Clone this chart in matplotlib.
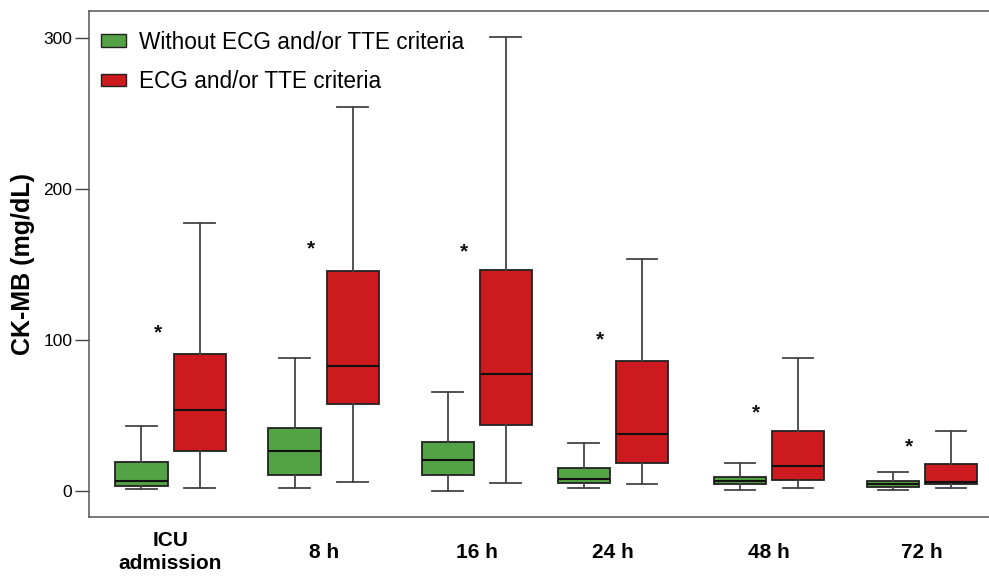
import matplotlib.pyplot as plt
from matplotlib.patches import Patch

plt.rcParams['font.family'] = ['Liberation Sans', 'DejaVu Sans']

# Time points and group centres on the x axis
timepoints = ['ICU\nadmission', '8 h', '16 h', '24 h', '48 h', '72 h']
group_x = [0, 1, 2, 2.89, 3.91, 4.91]

# Box statistics: (whisker low, Q1, median, Q3, whisker high), CK-MB in mg/dL
no_criteria = [
    (1.1, 3.5, 6.4, 19.0, 43.2),
    (2.2, 10.8, 26.7, 41.7, 88.3),
    (0.2, 10.8, 20.5, 32.5, 65.8),
    (2.2, 5.1, 7.7, 15.5, 31.8),
    (0.9, 4.4, 6.8, 9.1, 18.5),
    (0.9, 2.9, 4.8, 6.6, 12.8),
]
with_criteria = [
    (2.0, 26.7, 53.6, 90.5, 177.3),
    (6.0, 57.4, 82.6, 145.7, 254.5),
    (5.1, 43.5, 77.3, 146.4, 300.5),
    (4.4, 18.5, 37.5, 86.3, 153.4),
    (2.2, 7.3, 16.4, 39.7, 88.3),
    (2.2, 4.4, 6.0, 17.7, 39.7),
]
# Height of the significance asterisk for each time point
star_y = [105, 160, 158.3, 100, 51.9, 29.3]

legend_labels = ['Without ECG and/or TTE criteria', 'ECG and/or TTE criteria']
green = '#53a245'
red = '#cc1a1e'


def to_stats(rows):
    return [dict(whislo=a, q1=b, med=c, q3=d, whishi=e, fliers=[]) for a, b, c, d, e in rows]


fig = plt.figure(figsize=(9.89, 5.76), dpi=100)
ax = fig.add_axes([89 / 989, 1 - 517.3 / 576, 914 / 989, 506 / 576])

offset = 0.19
for rows, color, sign in [(no_criteria, green, -1), (with_criteria, red, 1)]:
    pos = [g + sign * offset for g in group_x]
    ax.bxp(to_stats(rows), positions=pos, widths=0.34, capwidths=0.2,
           patch_artist=True, showfliers=False, manage_ticks=False,
           boxprops=dict(facecolor=color, edgecolor='#222222', linewidth=1.3),
           medianprops=dict(color='#111111', linewidth=1.5),
           whiskerprops=dict(color='#444444', linewidth=1.3),
           capprops=dict(color='#444444', linewidth=1.3))

for g, y in zip(group_x, star_y):
    ax.text(g - 0.085, y, '*', ha='center', va='center', fontsize=15,
            fontweight='bold', color='#111111')

ax.set_xlim(-0.533, 5.44)
ax.set_ylim(-17.4, 317.6)
ax.set_xticks(group_x)
ax.set_xticklabels(timepoints, fontsize=15, fontweight='bold', va='center', linespacing=1.3)
ax.tick_params(axis='x', length=0, pad=25)
ax.set_yticks([0, 100, 200, 300])
ax.tick_params(axis='y', length=10, width=1, color='#444444', labelsize=12.5, pad=2)
ax.set_ylabel('CK-MB (mg/dL)', fontsize=18, fontweight='bold', labelpad=6)

for side in ['left', 'bottom', 'top', 'right']:
    ax.spines[side].set_color('#555555')
    ax.spines[side].set_linewidth(1.1)

handles = [Patch(facecolor=green, edgecolor='#222222'), Patch(facecolor=red, edgecolor='#222222')]
ax.legend(handles, legend_labels, loc='upper left', bbox_to_anchor=(0.013, 0.962),
          frameon=False, fontsize=16.3, handlelength=1.1, handleheight=0.45,
          handletextpad=0.6, labelspacing=0.72, borderpad=0, borderaxespad=0)

fig.savefig('out.png', dpi=100)
